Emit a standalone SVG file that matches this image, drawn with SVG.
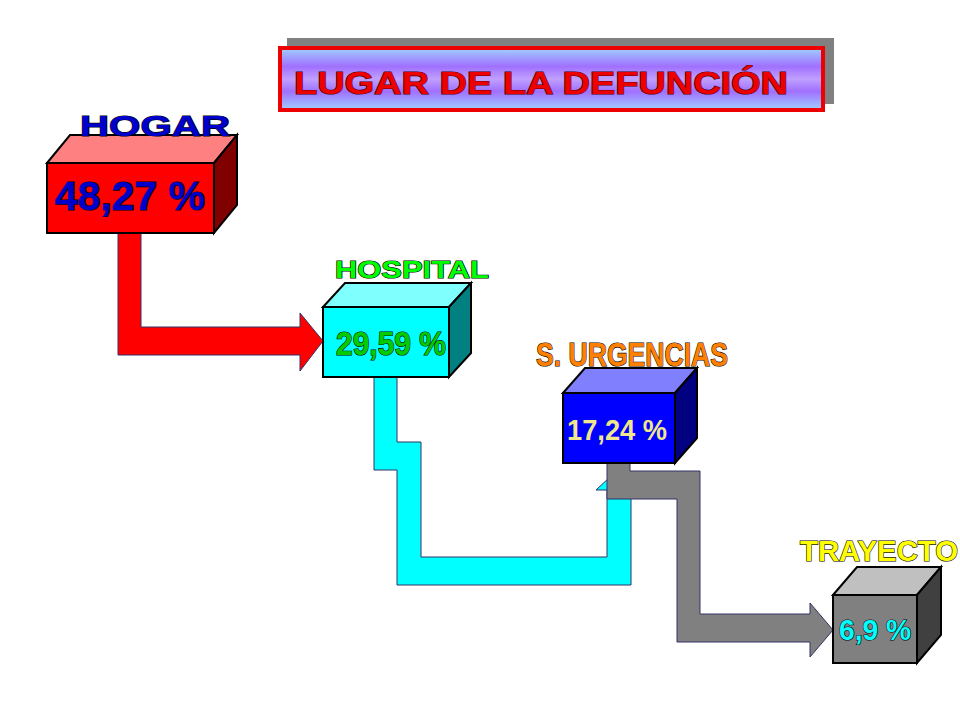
<svg xmlns="http://www.w3.org/2000/svg" width="960" height="720" viewBox="0 0 960 720">
<defs>
<linearGradient id="tg" x1="0" y1="0" x2="0" y2="1">
<stop offset="0" stop-color="#9fd0ff"/><stop offset="0.3" stop-color="#a070ff"/><stop offset="0.5" stop-color="#c0a0ff"/><stop offset="0.7" stop-color="#a070ff"/><stop offset="1" stop-color="#9fd0ff"/>
</linearGradient>
<style>
.lbl{font-family:"Liberation Sans",Arial,sans-serif;font-weight:bold;stroke-width:1.2;paint-order:stroke}
.box{stroke:#000;stroke-width:2}
.c{stroke:#336;stroke-width:1}
</style>
</defs>
<rect width="960" height="720" fill="#fff"/>
<g id="title">
<rect x="287" y="38" width="547" height="66" fill="#808080"/>
<rect x="280" y="48" width="543" height="62" fill="url(#tg)" stroke="#e00" stroke-width="4"/>
<text x="541" y="94" class="lbl" font-size="31" text-anchor="middle" fill="#e00" stroke="#400" textLength="494" lengthAdjust="spacingAndGlyphs">LUGAR DE LA DEFUNCIÓN</text>
</g>
<g id="connectors">
<polygon class="c" fill="#ff0000" points="118,233 141,233 141,327 300,327 300,313 323,341 300,371 300,355 118,355"/>
<polygon class="c" fill="#00ffff" points="374,377 397,377 397,442 421,442 421,557 607,557 607,490 596,490 610,477 631,477 631,585 397,585 397,470 374,470"/>
<polygon class="c" fill="#808080" points="607,462 630,462 630,471 700,471 700,614 810,614 810,603 833,630 810,657 810,642 677,642 677,499 607,499"/>
</g>
<g id="hogar">
<polygon class="box" fill="#ff8080" points="47,163 70,135 237,135 214,163"/>
<polygon class="box" fill="#800000" points="214,163 237,135 237,205 214,233"/>
<rect class="box" x="47" y="163" width="167" height="70" fill="#ff0000"/>
<text x="155" y="136" class="lbl" font-size="30" text-anchor="middle" fill="#0000cc" stroke="#000" textLength="150" lengthAdjust="spacingAndGlyphs">HOGAR</text>
<text x="130" y="210" class="lbl" font-size="40" text-anchor="middle" fill="#0000cc" stroke="#000" textLength="150" lengthAdjust="spacingAndGlyphs">48,27  %</text>
</g>
<g id="hospital">
<polygon class="box" fill="#80ffff" points="323,307 345,283 471,283 449,307"/>
<polygon class="box" fill="#008080" points="449,307 471,283 471,353 449,377"/>
<rect class="box" x="323" y="307" width="126" height="70" fill="#00ffff"/>
<text x="412" y="278" class="lbl" font-size="24" text-anchor="middle" fill="#00ff00" stroke="#000" textLength="154" lengthAdjust="spacingAndGlyphs">HOSPITAL</text>
<text x="391" y="355" class="lbl" font-size="34" text-anchor="middle" fill="#00cc00" stroke="#000" textLength="110" lengthAdjust="spacingAndGlyphs">29,59 %</text>
</g>
<g id="urgencias">
<polygon class="box" fill="#8080ff" points="563,393 585,368 697,368 675,393"/>
<polygon class="box" fill="#000080" points="675,393 697,368 697,438 675,463"/>
<rect class="box" x="563" y="393" width="112" height="70" fill="#0000ff"/>
<text x="632" y="366" class="lbl" font-size="34" text-anchor="middle" fill="#ff8000" stroke="#000" textLength="192" lengthAdjust="spacingAndGlyphs">S. URGENCIAS</text>
<text x="617" y="440" class="lbl" font-size="30" text-anchor="middle" fill="#f0e68c" stroke="none" textLength="100" lengthAdjust="spacingAndGlyphs">17,24 %</text>
</g>
<g id="trayecto">
<polygon class="box" fill="#c0c0c0" points="833,595 857,567 941,567 917,595"/>
<polygon class="box" fill="#404040" points="917,595 941,567 941,635 917,663"/>
<rect class="box" x="833" y="595" width="84" height="68" fill="#808080"/>
<text x="879" y="561" class="lbl" font-size="30" text-anchor="middle" fill="#ffff00" stroke="#000" textLength="158" lengthAdjust="spacingAndGlyphs">TRAYECTO</text>
<text x="875" y="640" class="lbl" font-size="30" text-anchor="middle" fill="#00ffff" stroke="#000" textLength="72" lengthAdjust="spacingAndGlyphs">6,9 %</text>
</g>
</svg>
